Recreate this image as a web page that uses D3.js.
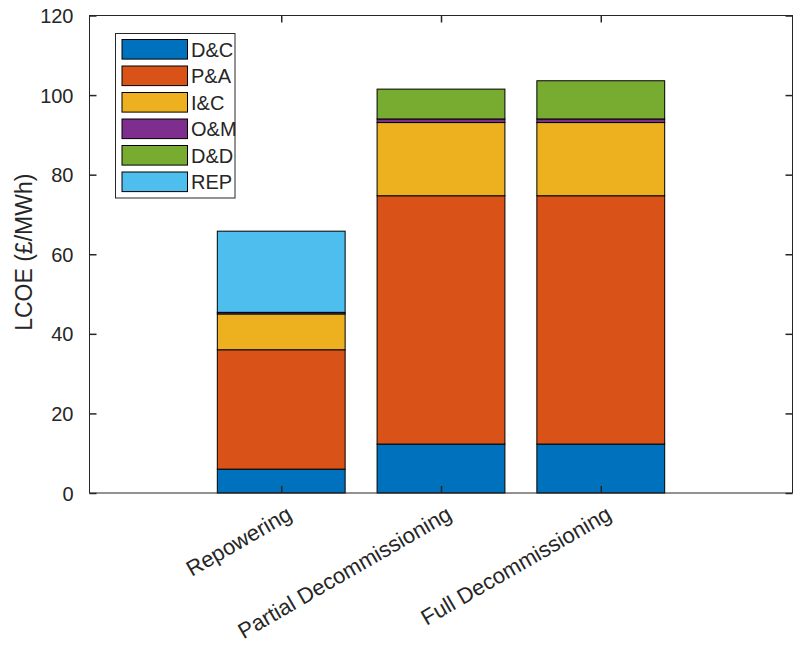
<!DOCTYPE html>
<html><head><meta charset="utf-8">
<script src="https://cdn.jsdelivr.net/npm/d3@7"></script>
<style>body{margin:0;background:#fff}svg{display:block}text{font-family:"Liberation Sans",Arial,sans-serif;fill:#262626}</style>
</head><body>
<svg id="c" width="799" height="652"></svg>
<script>
const categories = ["Repowering", "Partial Decommissioning", "Full Decommissioning"];
const seriesNames = ["D&C", "P&A", "I&C", "O&M", "D&D", "REP"];
const dc  = [6.0, 12.3, 12.3];
const pa  = [30.0, 62.4, 62.4];
const ic  = [9.0, 18.4, 18.4];
const om  = [0.4, 0.9, 0.9];
const dd  = [0.0, 7.5, 9.6];
const rep = [20.4, 0.0, 0.0];
const colors = ["#0072BD", "#D95319", "#EDB120", "#7E2F8E", "#77AC30", "#4DBEEE"];
const yTicks = [0, 20, 40, 60, 80, 100, 120];

const seriesVals = [dc, pa, ic, om, dd, rep];
const table = categories.map((c, i) => {
  const o = {cat: c, idx: i + 1};
  seriesNames.forEach((s, j) => o[s] = seriesVals[j][i]);
  return o;
});
const stack = d3.stack().keys(seriesNames)(table);

const svg = d3.select("#c");
const L = 89.5, R = 792.5, T = 15.5, B = 493;
const x = d3.scaleLinear().domain([-0.2, 4.2]).range([L, R]);
const y = d3.scaleLinear().domain([0, 120]).range([B, T]);
const bw = x(0.8) - x(0);
const axisColor = "#262626";

// bars
stack.forEach((layer, j) => {
  svg.append("g").selectAll("rect").data(layer).join("rect")
    .attr("x", d => x(d.data.idx) - bw / 2)
    .attr("width", bw)
    .attr("y", d => y(d[1]))
    .attr("height", d => Math.max(0, y(d[0]) - y(d[1])))
    .attr("fill", colors[j])
    .attr("stroke", "#000")
    .attr("stroke-width", 1)
    .style("display", d => (d[1] - d[0]) > 0 ? null : "none");
});

// axes
const tickLen = 7;
const gL = svg.append("g").attr("transform", `translate(${L},0)`)
  .call(d3.axisLeft(y).tickValues(yTicks).tickSize(-tickLen).tickPadding(tickLen + 9));
const gR = svg.append("g").attr("transform", `translate(${R},0)`)
  .call(d3.axisRight(y).tickValues(yTicks).tickSize(-tickLen).tickFormat(""));
const gB = svg.append("g").attr("transform", `translate(0,${B})`)
  .call(d3.axisBottom(x).tickValues([1, 2, 3]).tickSize(-tickLen).tickFormat((d, i) => categories[i]));
const gT = svg.append("g").attr("transform", `translate(0,${T})`)
  .call(d3.axisTop(x).tickValues([1, 2, 3]).tickSize(-tickLen).tickFormat(""));
[gL, gR, gB, gT].forEach(g => {
  g.selectAll(".tick line").attr("stroke", axisColor).attr("stroke-width", 1.5);
  g.select("path.domain").remove();
});
svg.append("rect").attr("x", L).attr("y", T).attr("width", R - L).attr("height", B - T)
  .attr("fill", "none").attr("stroke", axisColor).attr("stroke-width", 1);

gL.selectAll(".tick text").style("font-size", "20px").attr("fill", axisColor).attr("dy", "0.35em");
gB.selectAll(".tick text")
  .style("font-size", "22px").attr("fill", axisColor)
  .attr("text-anchor", "end")
  .attr("transform", "translate(4,12) rotate(-30)")
  .attr("x", 0).attr("y", 0).attr("dy", "0.7em");

// y label
svg.append("text")
  .attr("transform", `translate(32,${(T + B) / 2 - 2}) rotate(-90)`)
  .attr("text-anchor", "middle")
  .style("font-size", "23px")
  .text("LCOE (£/MWh)");

// legend
const lg = svg.append("g");
lg.append("rect").attr("x", 115.5).attr("y", 33.5).attr("width", 119.5).attr("height", 164.5)
  .attr("fill", "#fff").attr("stroke", axisColor).attr("stroke-width", 1);
seriesNames.forEach((s, i) => {
  const cy = 49.3 + i * 26.5;
  lg.append("rect").attr("x", 122).attr("y", cy - 9.8).attr("width", 65.5).attr("height", 19.6)
    .attr("fill", colors[i]).attr("stroke", "#000").attr("stroke-width", 1);
  lg.append("text").attr("x", 191).attr("y", cy).attr("dy", "0.36em")
    .style("font-size", "20px").text(s);
});
</script>
</body></html>
